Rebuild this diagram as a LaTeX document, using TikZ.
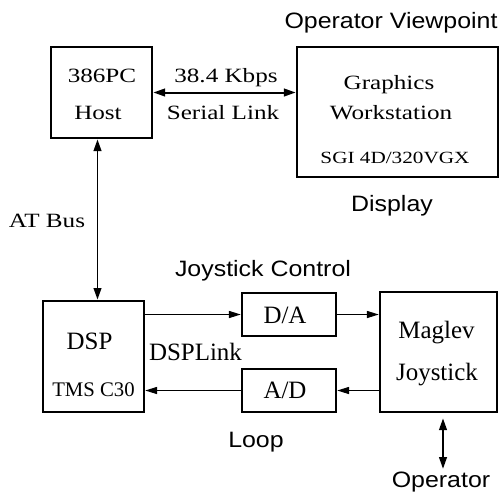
\documentclass[tikz,border=0pt]{standalone}
\usepackage{fontspec}
\setmainfont{Liberation Serif}[FakeStretch=1.24]
\setsansfont{Liberation Sans}[FakeStretch=1.12]
\newfontfamily\lowrm{Liberation Serif}
\usetikzlibrary{arrows.meta,calc}
\newcommand{\upfnt}{\rmfamily\fontsize{17.3}{20}\selectfont}
\newcommand{\sgifnt}{\rmfamily\fontsize{14.6}{17}\selectfont}
\newcommand{\lowfnt}{\lowrm\fontsize{21.3}{25}\selectfont}
\newcommand{\tmsfnt}{\lowrm\fontsize{17.7}{21}\selectfont}
\newcommand{\labfnt}{\sffamily\fontsize{19}{22}\selectfont}
\tikzset{
  box/.style={draw,line width=2.2pt,inner sep=0pt},
  ar/.style={-{Triangle[length=10pt,width=6pt]},line width=0.9pt},
  bi/.style={{Triangle[length=10pt,width=6.5pt]}-{Triangle[length=10pt,width=6.5pt]},line width=1.7pt},
  up/.style={anchor=base,inner sep=0pt,font=\upfnt},
  low/.style={anchor=base,inner sep=0pt,font=\lowfnt},
  lab/.style={anchor=base,inner sep=0pt,font=\labfnt},
}
\begin{document}
\begin{tikzpicture}[x=0.03cm,y=-0.03cm]
  \useasboundingbox (0,0) rectangle (503,492);
  % blocks
  \node[box,minimum width=3.03cm,minimum height=2.73cm] (host) at (101.5,92.5) {};
  \node[box,minimum width=6.03cm,minimum height=3.9cm]  (gfx)  at (397.5,112) {};
  \node[box,minimum width=3.03cm,minimum height=3.33cm] (dsp)  at (93.5,356.5) {};
  \node[box,minimum width=2.82cm,minimum height=1.29cm] (da)   at (289,314.5) {};
  \node[box,minimum width=2.82cm,minimum height=1.29cm] (ad)   at (289,390.5) {};
  \node[box,minimum width=3.51cm,minimum height=3.6cm]  (mag)  at (438.5,352) {};
  % texts in the blocks
  \node[up] (hostA) at (102,82) {386PC};
  \node[up] (hostB) at (98,119) {Host};
  \node[up] (gfxA) at (389,89) {Graphics};
  \node[up] (gfxB) at (391,119) {Workstation};
  \node[anchor=base,inner sep=0pt,font=\sgifnt] (gfxC) at (395,163) {SGI 4D/320VGX};
  \node[low] (dspA) at (89.5,349) {DSP};
  \node[anchor=base,inner sep=0pt,font=\tmsfnt] (dspB) at (93.5,396) {TMS C30};
  \node[low] (daT) at (285,323) {D/A};
  \node[low] (adT) at (285,398) {A/D};
  \node[low] (magA) at (436.5,338) {Maglev};
  \node[low] (magB) at (437,380) {Joystick};
  % labels
  \node[up] (kbps) at (226,82) {38.4 Kbps};
  \node[up] (serial) at (223,119) {Serial Link};
  \node[up] (atbus) at (47,227) {AT Bus};
  \node[low] (dsplink) at (195.5,360) {DSPLink};
  \node[lab] (view) at (391,28) {Operator Viewpoint};
  \node[lab] (disp) at (392,211) {Display};
  \node[lab] (joyc) at (263,276) {Joystick Control};
  \node[lab] (loop) at (256,447) {Loop};
  \node[lab,inner sep=2pt] (op) at (441,487) {Operator};
  % links
  \draw[bi] (host.east) -- (host.east -| gfx.west);
  \coordinate (bus) at ($(host.south)!.5!(host.south -| dsp.north)$);
  \draw[bi] (bus) -- (bus |- dsp.north);
  \draw[ar] (da.west -| dsp.east) -- (da.west);
  \draw[ar] (da.east) -- (da.east -| mag.west);
  \draw[ar] (ad.east -| mag.west) -- (ad.east);
  \draw[ar] (ad.west) -- (ad.west -| dsp.east);
  \draw[bi] ($(mag.south -| op.north)+(2,5)$) -- ($(op.north)+(2,0)$);
\end{tikzpicture}
\end{document}
